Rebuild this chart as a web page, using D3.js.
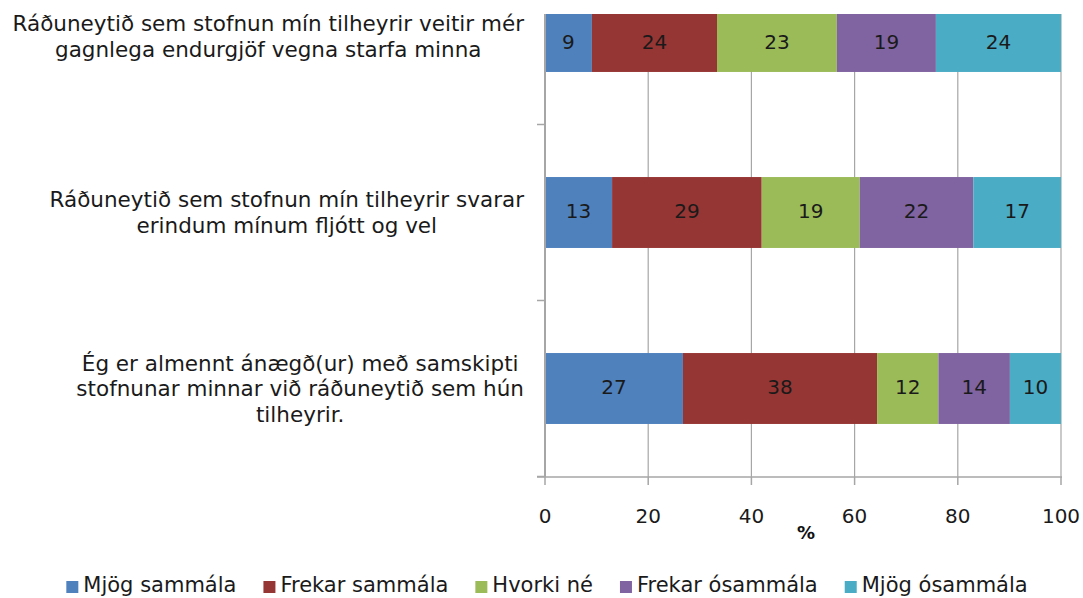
<!DOCTYPE html>
<html>
<head>
<meta charset="utf-8">
<script src="https://cdn.jsdelivr.net/npm/d3@7"></script>
<style>
  body { margin: 0; background: #fff; }
  svg { display: block; font-family: "DejaVu Sans", Verdana, sans-serif; }
</style>
</head>
<body>
<svg id="chart" width="1083" height="598"></svg>
<script>
// data
var categories = [
  ["Ráðuneytið sem stofnun mín tilheyrir veitir mér", "gagnlega endurgjöf vegna starfa minna"],
  ["Ráðuneytið sem stofnun mín tilheyrir svarar", "erindum mínum fljótt og vel"],
  ["Ég er almennt ánægð(ur) með samskipti", "stofnunar minnar við ráðuneytið sem hún", "tilheyrir."]
];
var seriesNames = ["Mjög sammála", "Frekar sammála", "Hvorki né", "Frekar ósammála", "Mjög ósammála"];
var seriesColors = ["#4f81bd", "#963634", "#9bbb59", "#8064a2", "#4bacc6"];
var values = [
  [9, 24, 23, 19, 24],
  [13, 29, 19, 22, 17],
  [27, 38, 12, 14, 10]
];
var xTicks = [0, 20, 40, 60, 80, 100];

var svg = d3.select("#chart");
var plotLeft = 545, plotRight = 1061, plotTop = 14, plotBottom = 477;

// rows as objects for d3.stack
var rows = values.map(function(v, i){
	var r = {idx: i};
	seriesNames.forEach(function(s, j){ r[s] = v[j]; });
	return r;
});
var stacked = d3.stack().keys(seriesNames).offset(d3.stackOffsetExpand)(rows);

var x = d3.scaleLinear().domain([0, 100]).range([plotLeft, plotRight]);
// the top band is partly cut off in the original picture
var y = d3.scaleBand().domain([0, 1, 2]).range([-51.5, 476.5])
		.paddingInner(0.597).paddingOuter(0.2985);

svg.append("clipPath").attr("id", "plotclip")
	.append("rect").attr("x", plotLeft).attr("y", plotTop)
	.attr("width", plotRight - plotLeft + 2).attr("height", plotBottom - plotTop);

// gridlines
svg.append("g").selectAll("line").data(xTicks.slice(1)).enter().append("line")
	.attr("x1", function(d){ return x(d); }).attr("x2", function(d){ return x(d); })
	.attr("y1", plotTop).attr("y2", plotBottom)
	.attr("stroke", "#a6a6a6").attr("stroke-width", 1.2);

// bars
var barG = svg.append("g").attr("clip-path", "url(#plotclip)");
stacked.forEach(function(layer, j){
	barG.append("g").attr("fill", seriesColors[j])
		.selectAll("rect").data(layer).enter().append("rect")
		.attr("x", function(d){ return x(d[0] * 100); })
		.attr("width", function(d){ return x(d[1] * 100) - x(d[0] * 100); })
		.attr("y", function(d, i){ return y(i); })
		.attr("height", y.bandwidth());
});

// value labels
stacked.forEach(function(layer, j){
	svg.append("g").selectAll("text").data(layer).enter().append("text")
		.attr("x", function(d){ return x((d[0] + d[1]) / 2 * 100); })
		.attr("y", function(d, i){ return Math.max(y(i), plotTop) + (y(i) + y.bandwidth() - Math.max(y(i), plotTop)) / 2 - 1.5; })
		.attr("dy", "0.36em")
		.attr("text-anchor", "middle")
		.attr("font-size", 20)
		.attr("fill", "#1a1a1a")
		.text(function(d, i){ return values[i][j]; });
});

// left axis
svg.append("line").attr("x1", plotLeft).attr("x2", plotLeft)
	.attr("y1", plotTop).attr("y2", plotBottom)
	.attr("stroke", "#a6a6a6").attr("stroke-width", 2);
var bounds = [1, 2, 3].map(function(i){ return y(i - 1) + y.bandwidth() + y.step() * y.paddingInner() / 2; });
svg.append("g").selectAll("line").data(bounds).enter().append("line")
	.attr("x1", plotLeft - 8).attr("x2", plotLeft)
	.attr("y1", function(d){ return d; }).attr("y2", function(d){ return d; })
	.attr("stroke", "#a6a6a6").attr("stroke-width", 1.5);

// x axis
svg.append("line").attr("x1", plotLeft - 8).attr("x2", plotRight + 1)
	.attr("y1", plotBottom).attr("y2", plotBottom)
	.attr("stroke", "#a6a6a6").attr("stroke-width", 1.5);
svg.append("g").selectAll("line").data(xTicks).enter().append("line")
	.attr("x1", function(d){ return x(d); }).attr("x2", function(d){ return x(d); })
	.attr("y1", plotBottom).attr("y2", plotBottom + 8)
	.attr("stroke", "#a6a6a6").attr("stroke-width", 1.5);
svg.append("g").selectAll("text").data(xTicks).enter().append("text")
	.attr("x", function(d){ return x(d); })
	.attr("y", 523)
	.attr("text-anchor", "middle")
	.attr("font-size", 20)
	.attr("fill", "#1a1a1a")
	.text(function(d){ return d; });
svg.append("text").attr("x", x(50) + 3).attr("y", 539)
	.attr("text-anchor", "middle").attr("font-size", 18).attr("font-weight", "bold")
	.attr("fill", "#111").text("%");

// category labels: centred lines, block right-aligned near the axis
var lineH = 25.5;
categories.forEach(function(lines, i){
	var g = svg.append("g");
	var cy = y(i) + y.bandwidth() / 2;
	var t = g.selectAll("text").data(lines).enter().append("text")
		.attr("font-size", 21.5)
		.attr("fill", "#1a1a1a")
		.attr("text-anchor", "middle")
		.attr("y", function(d, k){ return cy + (k - (lines.length - 1) / 2) * lineH; })
		.attr("dy", "0.36em")
		.text(function(d){ return d; });
	var maxW = 0;
	t.each(function(){ maxW = Math.max(maxW, this.getComputedTextLength()); });
	t.attr("x", 524 - maxW / 2);
});

// legend
var legG = svg.append("g");
var lx = 0;
seriesNames.forEach(function(s, j){
	legG.append("rect").attr("x", lx).attr("y", 581).attr("width", 12).attr("height", 12)
		.attr("fill", seriesColors[j]);
	var txt = legG.append("text").attr("x", lx + 17).attr("y", 592)
		.attr("font-size", 21).attr("fill", "#1a1a1a").text(s);
	lx += 17 + txt.node().getComputedTextLength() + 27;
});
var legW = lx - 27;
legG.attr("transform", "translate(" + (547 - legW / 2) + ",0)");
</script>
</body>
</html>
